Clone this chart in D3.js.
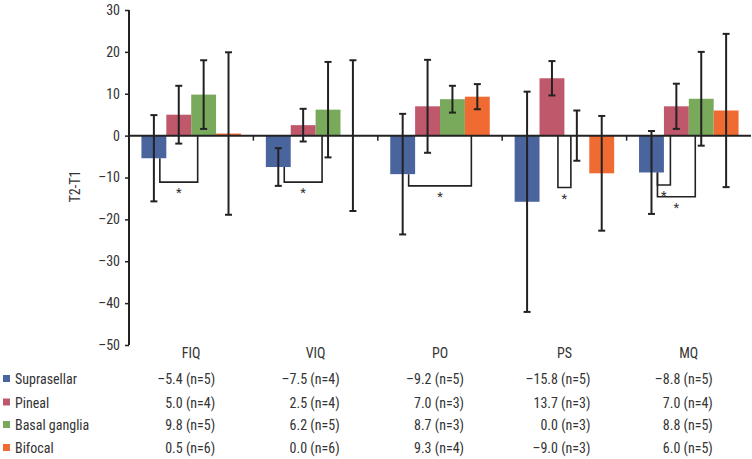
<!DOCTYPE html>
<html>
<head>
<meta charset="utf-8">
<script src="https://cdn.jsdelivr.net/npm/d3@7"></script>
<style>
  html, body { margin: 0; padding: 0; background: #fff; }
  svg { display: block; }
  text { font-family: "Liberation Sans Narrow", "Arial Narrow", "Roboto Condensed", "Liberation Sans", sans-serif; fill: #333; }
</style>
</head>
<body>
<svg id="chart" width="752" height="459"></svg>
<script>
// ---- data ----
const categories = ["FIQ", "VIQ", "PO", "PS", "MQ"];
const seriesNames = ["Suprasellar", "Pineal", "Basal ganglia", "Bifocal"];
const seriesColors = ["#4a659e", "#c0586b", "#79a95b", "#f06b31"];

const suprasellarValues = [-5.4, -7.5, -9.2, -15.8, -8.8];
const pinealValues      = [5.0, 2.5, 7.0, 13.7, 7.0];
const basalValues       = [9.8, 6.2, 8.7, 0.0, 8.8];
const bifocalValues     = [0.5, 0.0, 9.3, -9.0, 6.0];

const suprasellarSD = [10.3, 4.5, 14.4, 26.3, 9.9];
const pinealSD      = [6.9, 3.9, 11.1, 4.1, 5.4];
const basalSD       = [8.2, 11.4, 3.2, 6.0, 11.2];
const bifocalSD     = [19.4, 18.0, 3.0, 13.7, 18.3];

const suprasellarN = [5, 4, 5, 5, 5];
const pinealN      = [4, 4, 3, 3, 4];
const basalN       = [5, 5, 3, 3, 5];
const bifocalN     = [6, 6, 4, 3, 5];

const yTicks = [30, 20, 10, 0, -10, -20, -30, -40, -50];

// significance brackets: category, from series, to series, level
const bracketCats  = ["FIQ", "VIQ", "PO", "PS", "MQ", "MQ"];
const bracketFrom  = [0, 0, 0, 1, 0, 0];
const bracketTo    = [2, 2, 3, 2, 1, 2];
const bracketLevel = [-11.1, -11.1, -12.0, -12.4, -11.8, -14.6];

const allValues = [suprasellarValues, pinealValues, basalValues, bifocalValues];
const allSD = [suprasellarSD, pinealSD, basalSD, bifocalSD];
const allN = [suprasellarN, pinealN, basalN, bifocalN];

// ---- scales ----
const svg = d3.select("#chart");
const x0 = d3.scaleBand().domain(categories).range([129, 751]).paddingInner(0).paddingOuter(0);
const x1 = d3.scaleBand().domain(d3.range(seriesNames.length)).range([0, x0.bandwidth()]).paddingInner(0).paddingOuter(0.5);
const y = d3.scaleLinear().domain([-50, 30]).range([345, 10]);
const ink = "#222";
const fmt = v => (v < 0 ? "\u2013" + Math.abs(v).toFixed(1) : v.toFixed(1));

// ---- bars ----
const barData = [];
seriesNames.forEach((s, si) => {
  categories.forEach((c, ci) => {
    barData.push({ c, si, v: allValues[si][ci], sd: allSD[si][ci] });
  });
});

svg.append("g").selectAll("rect").data(barData).join("rect")
  .attr("x", d => x0(d.c) + x1(d.si))
  .attr("width", x1.bandwidth())
  .attr("y", d => y(Math.max(0, d.v)))
  .attr("height", d => Math.max(Math.abs(y(d.v) - y(0)), d.v === 0 ? 0 : 0))
  .attr("fill", d => seriesColors[d.si]);

// FIQ bifocal thin bar (0.5) visible as thin line
// ---- x axis line (zero line) ----
svg.append("line")
  .attr("x1", 129).attr("x2", 751)
  .attr("y1", y(0)).attr("y2", y(0))
  .attr("stroke", ink).attr("stroke-width", 2);

// category boundary ticks
svg.append("g").selectAll("line").data(categories.slice(1)).join("line")
  .attr("x1", d => x0(d)).attr("x2", d => x0(d))
  .attr("y1", y(0)).attr("y2", y(0) + 5)
  .attr("stroke", ink).attr("stroke-width", 1.5);

// ---- error bars ----
const cap = 3.5;
const eb = svg.append("g").attr("stroke", ink).attr("stroke-width", 2).attr("fill", "none");
barData.forEach(d => {
  const cx = x0(d.c) + x1(d.si) + x1.bandwidth() / 2;
  const yt = y(d.v + d.sd), yb = y(d.v - d.sd);
  eb.append("line").attr("x1", cx).attr("x2", cx).attr("y1", yt).attr("y2", yb);
  eb.append("line").attr("x1", cx - cap).attr("x2", cx + cap).attr("y1", yt).attr("y2", yt);
  eb.append("line").attr("x1", cx - cap).attr("x2", cx + cap).attr("y1", yb).attr("y2", yb);
});

// ---- significance brackets ----
const br = svg.append("g");
bracketCats.forEach((c, i) => {
  const ci = categories.indexOf(c);
  const fi = bracketFrom[i], ti = bracketTo[i];
  const inset = x1.bandwidth() * 0.24;
  const xa = x0(c) + x1(fi) + x1.bandwidth() / 2 + inset;
  const xb = x0(c) + x1(ti) + x1.bandwidth() / 2 - inset;
  const ya = y(Math.min(0, allValues[fi][ci]));
  const yb = y(Math.min(0, allValues[ti][ci]));
  const yl = y(bracketLevel[i]);
  br.append("path")
    .attr("d", `M${xa},${ya}V${yl}H${xb}V${yb}`)
    .attr("fill", "none").attr("stroke", ink).attr("stroke-width", 1.6);
  br.append("text")
    .attr("x", (xa + xb) / 2).attr("y", yl + 15)
    .attr("text-anchor", "middle")
    .attr("font-size", 13)
    .text("*");
});

// ---- y axis ----
const yAxis = d3.axisLeft(y).tickValues(yTicks).tickSize(4).tickPadding(5)
  .tickFormat(v => v < 0 ? "\u2013" + Math.abs(v) : String(v));
const gy = svg.append("g").attr("transform", "translate(129,0)").call(yAxis);
gy.select(".domain").attr("stroke", ink).attr("stroke-width", 2).attr("d", `M0,${y(30)}V${y(-50)}`);
gy.selectAll(".tick line").attr("stroke", ink).attr("stroke-width", 1.5);
gy.selectAll(".tick text").attr("font-size", 14).attr("fill", "#333")
  .attr("font-family", '"Liberation Sans Narrow", "Arial Narrow", "Liberation Sans", sans-serif');

// y label
svg.append("text")
  .attr("transform", "translate(80,186.5) rotate(-90)")
  .attr("text-anchor", "middle")
  .attr("font-size", 14)
  .text("T2-T1");

// ---- category labels ----
svg.append("g").selectAll("text").data(categories).join("text")
  .attr("x", d => x0(d) + x0.bandwidth() / 2)
  .attr("y", 358)
  .attr("text-anchor", "middle")
  .attr("font-size", 14)
  .text(d => d);

// ---- table / legend ----
const rowY = [384, 407.5, 430, 453];
const leg = svg.append("g");
seriesNames.forEach((s, si) => {
  leg.append("rect").attr("x", 3).attr("y", rowY[si] - 9).attr("width", 7).attr("height", 7)
    .attr("fill", seriesColors[si]);
  leg.append("text").attr("x", 15).attr("y", rowY[si]).attr("font-size", 14).text(s);
  categories.forEach((c, ci) => {
    leg.append("text")
      .attr("x", x0(c) + x0.bandwidth() / 2 + (c === "PS" ? 26 : 24))
      .attr("y", rowY[si])
      .attr("text-anchor", "end")
      .attr("font-size", 14)
      .text(fmt(allValues[si][ci]) + " (n=" + allN[si][ci] + ")");
  });
});
</script>
</body>
</html>
